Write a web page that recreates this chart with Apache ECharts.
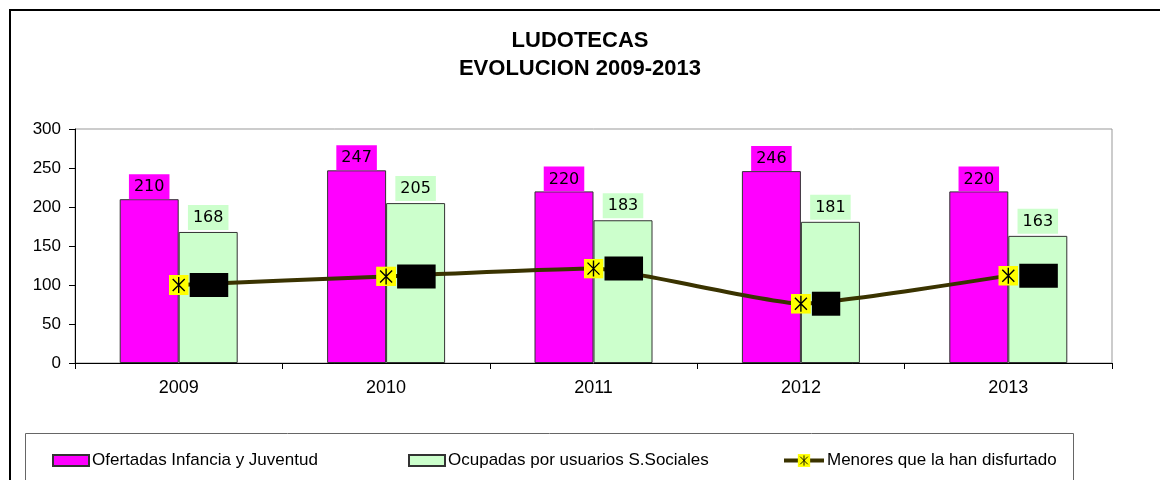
<!DOCTYPE html>
<html>
<head>
<meta charset="utf-8">
<script src="https://cdn.jsdelivr.net/npm/echarts@6/dist/echarts.min.js"></script>
<style>
    html, body { margin: 0; padding: 0; background: #fff; }
    #chart { width: 1160px; height: 480px; }
</style>
</head>
<body>
<div id="chart"></div>
<script>
    var years = ['2009', '2010', '2011', '2012', '2013'];
    var ofertadas = [210, 247, 220, 246, 220];
    var ocupadas = [168, 205, 183, 181, 163];
    var menores = [100, 111, 121, 76, 112];
    var yTicks = [0, 50, 100, 150, 200, 250, 300];

    var seriesNames = ['Ofertadas Infancia y Juventud', 'Ocupadas por usuarios S.Sociales', 'Menores que la han disfurtado'];

    var font = '"Liberation Sans", Arial, sans-serif';
    var labelFont = '"DejaVu Sans", Verdana, sans-serif';

    var markerSvg = "<svg xmlns='http://www.w3.org/2000/svg' width='20' height='20'>" +
        "<rect width='20' height='20' fill='#ffff00'/>" +
        "<path d='M4 4L16 16M16 4L4 16M10 2L10 18' stroke='#000' stroke-width='1.4'/></svg>";
    var marker = 'image://data:image/svg+xml;charset=utf-8,' + encodeURIComponent(markerSvg);

    var chart = echarts.init(document.getElementById('chart'));

    function legendAt(left, name, w, h) {
        return {
            left: left,
            top: 447,
            data: [name],
            icon: name === seriesNames[2] ? undefined : 'rect',
            itemWidth: w,
            itemHeight: h,
            itemGap: 0,
            lineStyle: { width: 4 },
            textStyle: { fontFamily: font, fontSize: 17, color: '#000', padding: [0, 0, 0, -2] },
            selectedMode: false
        };
    }

    chart.setOption({
        animation: false,
        title: {
            text: 'LUDOTECAS\nEVOLUCION 2009-2013',
            left: 'center',
            top: 22,
            textStyle: { fontFamily: font, fontSize: 22, fontWeight: 'bold', color: '#000', lineHeight: 28 }
        },
        graphic: [
            { type: 'rect', shape: { x: 10, y: 10, width: 1200, height: 500 }, style: { fill: 'none', stroke: '#000', lineWidth: 2 }, silent: true },
            { type: 'rect', shape: { x: 25.5, y: 433.5, width: 1048, height: 80 }, style: { fill: 'none', stroke: '#666', lineWidth: 1 }, silent: true }
        ],
        legend: [
            legendAt(47, seriesNames[0], 36, 11),
            legendAt(403, seriesNames[1], 36, 11),
            legendAt(777, seriesNames[2], 40, 16)
        ],
        grid: {
            left: 75, right: 48, top: 129, bottom: 117,
            show: true, borderColor: '#999', borderWidth: 1
        },
        xAxis: {
            type: 'category',
            data: years,
            axisLine: { lineStyle: { color: '#000' } },
            axisTick: { show: true, alignWithLabel: false, length: 6, lineStyle: { color: '#000' } },
            axisLabel: { fontFamily: font, fontSize: 18, color: '#000', margin: 16 }
        },
        yAxis: {
            type: 'value',
            min: yTicks[0],
            max: yTicks[yTicks.length - 1],
            interval: 50,
            splitLine: { show: false },
            axisLine: { show: true, lineStyle: { color: '#000' } },
            axisTick: { show: true, length: 6, lineStyle: { color: '#000' } },
            axisLabel: { fontFamily: font, fontSize: 17, color: '#000', margin: 14 }
        },
        series: [
            {
                name: seriesNames[0],
                type: 'bar',
                data: ofertadas,
                barWidth: 59,
                barGap: '0%',
                itemStyle: { color: '#ff00ff', borderColor: '#333', borderWidth: 1 },
                label: {
                    show: true, position: 'top', distance: 0,
                    fontFamily: labelFont, fontSize: 16, color: '#000',
                    backgroundColor: '#ff00ff', padding: [5, 5, 4, 5]
                }
            },
            {
                name: seriesNames[1],
                type: 'bar',
                data: ocupadas,
                barWidth: 59,
                itemStyle: { color: '#ccffcc', borderColor: '#333', borderWidth: 1 },
                label: {
                    show: true, position: 'top', distance: 2,
                    fontFamily: labelFont, fontSize: 16, color: '#000',
                    backgroundColor: '#ccffcc', padding: [5, 5, 4, 5]
                }
            },
            {
                name: seriesNames[2],
                type: 'line',
                data: menores,
                smooth: 0.15,
                z: 5,
                symbol: marker,
                symbolSize: 20,
                lineStyle: { color: '#3a3300', width: 4 },
                itemStyle: { color: '#3a3300' },
                label: {
                    show: true, position: 'right', distance: 1,
                    fontFamily: labelFont, fontSize: 16, color: '#000',
                    backgroundColor: '#000', padding: [4, 4, 4, 4]
                }
            }
        ]
    });
</script>
</body>
</html>
